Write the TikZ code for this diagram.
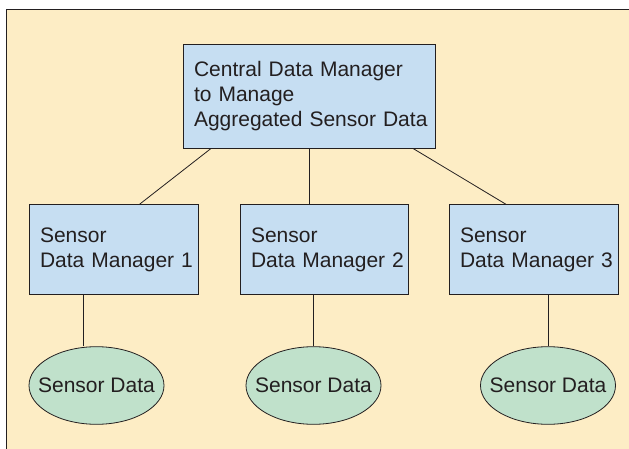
\documentclass[tikz,border=0pt]{standalone}
\usepackage{fontspec}
\setmainfont{Liberation Sans}
\usetikzlibrary{shapes.geometric}

\definecolor{pagecream}{HTML}{FDEDC5}
\definecolor{boxblue}{HTML}{C6DEF2}
\definecolor{datagreen}{HTML}{C0E1CB}
\definecolor{inkgrey}{HTML}{231F20}

\tikzset{
  manager/.style={draw=inkgrey, fill=boxblue, line width=0.8pt, align=left,
    inner xsep=11pt, inner ysep=0pt, text width=#1,
    execute at begin node={\hyphenpenalty=10000}},
  sensordata/.style={ellipse, draw=inkgrey, fill=datagreen, line width=0.8pt,
    inner xsep=-25pt, inner ysep=0pt, minimum width=135pt, minimum height=77.6pt},
  link/.style={draw=inkgrey, line width=0.8pt}
}

\begin{document}
\begin{tikzpicture}[x=1pt,y=1pt,font=\fontsize{21}{25}\selectfont,text=inkgrey]
   \useasboundingbox (0,0) rectangle (629,448);
   % panel behind the tree
   \draw[draw=inkgrey, fill=pagecream, line width=0.8pt] (6,-3) rectangle (633,438.7);

   \node[manager=230.5pt, minimum height=104pt] (cdm) at (309.25,352)
     {Central~Data~Manager\\to~Manage\\Aggregated~Sensor~Data};

   \node[manager=147pt, minimum height=89.3pt] (sdm1) at (113.5,198.65) {Sensor\\Data~Manager~1};
   \node[manager=146pt, minimum height=89.3pt] (sdm2) at (324,198.65) {Sensor\\Data~Manager~2};
   \node[manager=147pt, minimum height=89.3pt] (sdm3) at (533.5,198.65) {Sensor\\Data~Manager~3};

   \node[sensordata] (sd1) at (96.5,62.5) {Sensor Data};
   \node[sensordata] (sd2) at (313.5,62.5) {Sensor Data};
   \node[sensordata] (sd3) at (548,62.5) {Sensor Data};

   \path[link] ([xshift=28.5pt]cdm.south west) edge ([xshift=26pt]sdm1.north);
   \path[link] (cdm.south) edge (cdm.south |- sdm2.north);
   \path[link] ([xshift=-23pt]cdm.south east) edge ([xshift=-27.5pt]sdm3.north);

   \path[link] (sd1.north) ++(-13.5,0) coordinate (l1) edge (l1 |- sdm1.south);
   \path[link] (sd2.north) edge (sd2.north |- sdm2.south);
   \path[link] (sd3.north) edge (sd3.north |- sdm3.south);

\end{tikzpicture}
\end{document}
